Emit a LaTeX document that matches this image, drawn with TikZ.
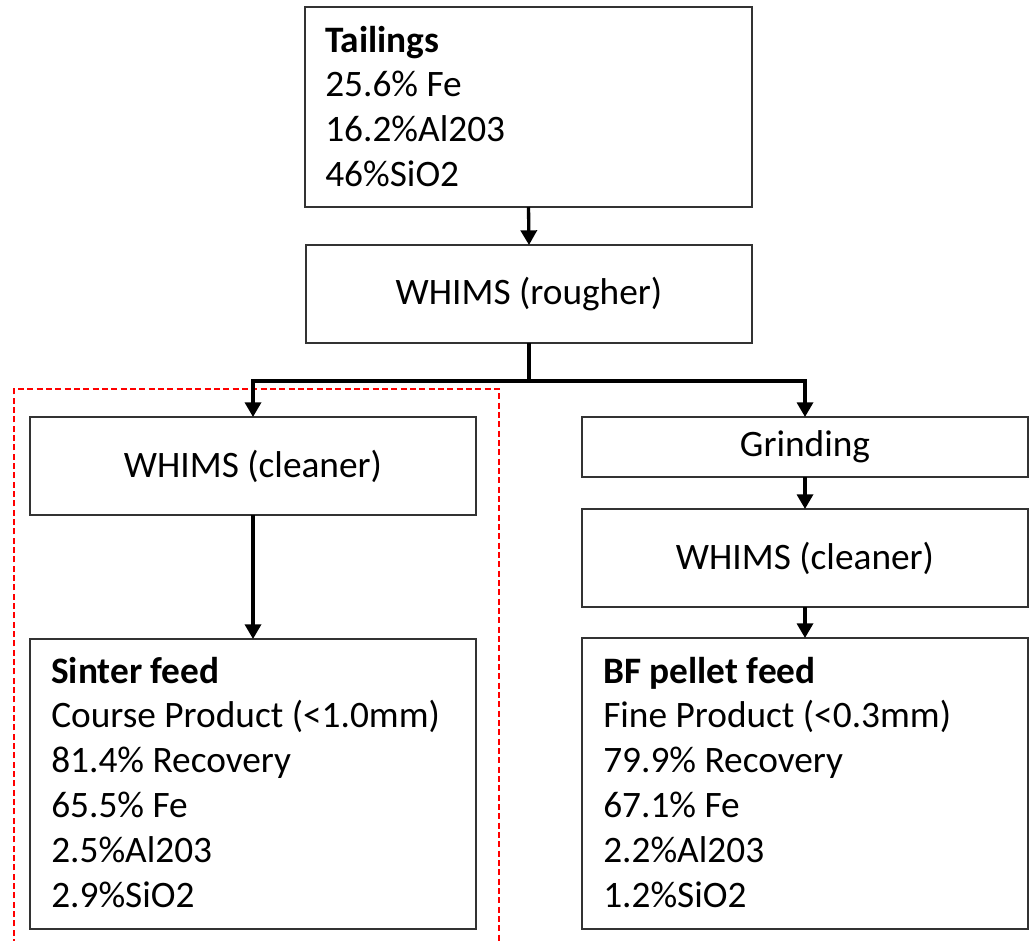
\documentclass[tikz,border=0pt]{standalone}
\usepackage{fontspec}
\setmainfont{Carlito}
\usetikzlibrary{arrows.meta}
\begin{document}
\begin{tikzpicture}[x=0.75pt,y=-0.75pt,
  every node/.style={font=\fontsize{28}{33.6}\selectfont},
  box/.style={draw=black!80, line width=1.1pt, inner sep=0pt, outer sep=0pt, fill=white, minimum width=334.5pt},
  txt/.style={anchor=base west, inner sep=0pt, text width=320pt, align=flush left},
  conn/.style={line width=2.5pt, line join=miter},
  arr/.style={conn, -{Triangle[width=12pt,length=11pt]}},
  frame/.style={draw=red, line width=0.8pt, dash pattern=on 4.5pt off 2.5pt}
]
\useasboundingbox (0,0) rectangle (1030,940);
\fill[white] (0,0) rectangle (1030,940);

% red dashed frame around the sinter-feed branch
\draw[frame] (14,945) -- (14,389) -- (499,389) -- (499,945);

% boxes
\node[box, minimum width=335.25pt, minimum height=150pt] (tail) at (528.5,107) {};
\node[box, minimum height=73.5pt] (rough) at (529,294) {WHIMS (rougher)};
\node[box, minimum height=73.5pt] (clnL) at (253,466) {WHIMS (cleaner)};
\node[box, minimum height=217.5pt] (sinter) at (253,784) {};
\node[box, minimum height=45pt] (grind) at (805,447) {Grinding};
\node[box, minimum height=73.5pt] (clnR) at (805,558) {WHIMS (cleaner)};
\node[box, minimum height=218.25pt] (bf) at (805,783.5) {};

% box texts
\node[txt] (tailtxt) at (325,52) {\textbf{Tailings}\\25.6\% Fe\\16.2\%Al203\\46\%SiO2};
\node[txt] (sintertxt) at (51,683) {\textbf{Sinter feed}\\Course Product (<1.0mm)\\81.4\% Recovery\\65.5\% Fe\\2.5\%Al203\\2.9\%SiO2};
\node[txt] (bftxt) at (603,683) {\textbf{BF pellet feed}\\Fine Product (<0.3mm)\\79.9\% Recovery\\67.1\% Fe\\2.2\%Al203\\1.2\%SiO2};

% connectors
\coordinate (j) at (529,381);
\draw[arr] (tail.south) -- (rough.north);
\draw[conn] (rough.south) -- (j);
\draw[arr] (j) -| (clnL.north);
\draw[arr] (j) -| (grind.north);
\draw[arr] (clnL.south) -- (sinter.north);
\draw[arr] (grind.south) -- (clnR.north);
\draw[arr] (clnR.south) -- (bf.north);
\end{tikzpicture}
\end{document}
